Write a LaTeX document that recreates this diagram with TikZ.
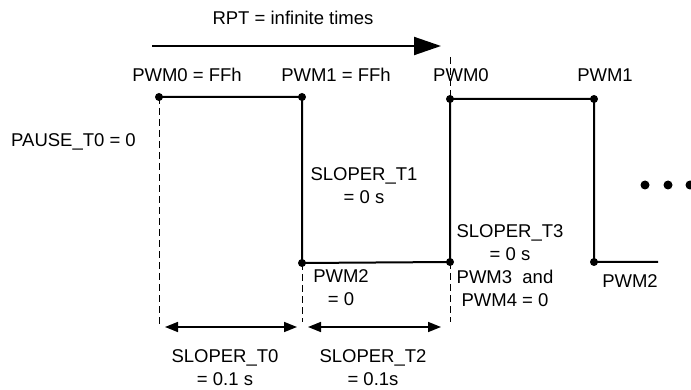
\documentclass[tikz,border=0pt]{standalone}
\usepackage{fontspec}
\setmainfont{Liberation Sans}
\usetikzlibrary{arrows.meta}
\begin{document}
\begin{tikzpicture}[x=1pt,y=-1pt,
  lbl/.style={inner sep=0pt, font=\fontsize{18.5}{23}\selectfont, align=center},
  wave/.style={line width=2pt},
  guide/.style={line width=0.9pt, dash pattern=on 7pt off 4pt},
  dim/.style={line width=1.6pt, {Triangle[length=13pt,width=10pt]}-{Triangle[length=13pt,width=10pt]}},
  jdot/.style={circle, fill=black, inner sep=0pt, minimum size=8pt}
]
\useasboundingbox (0,0) rectangle (691,390);
% waveform corner points
\node[jdot] (a) at (159,97) {};
\node[jdot] (b) at (302,97) {};
\node[jdot] (c) at (302,263) {};
\node[jdot] (d) at (450,262) {};
\node[jdot] (e) at (450,99) {};
\node[jdot] (f) at (594,99) {};
\node[jdot] (g) at (594,262) {};
\coordinate (h) at (658,262);
\draw[wave] (a.center) -- (b.center) -- (c.center) -- (d.center) -- (e.center) -- (f.center) -- (g.center) -- (h);
% guide lines
\coordinate (a0) at (159,326);
\coordinate (c0) at (302,322);
\coordinate (d0) at (450,322);
\coordinate (e0) at (450,57);
\draw[guide] (a.center) -- (a0);
\draw[guide] (c.center) -- (c0);
\draw[guide] (d.center) -- (d0);
\draw[guide] (e0) -- (e.center);
% top arrow
\coordinate (r0) at (152,46);
\coordinate (r1) at (441,46);
\draw[line width=2pt, -{Triangle[length=27pt,width=18pt]}] (r0) -- (r1);
\node[lbl] (rpt) at (293,18) {RPT = infinite times};
% dimension arrows
\coordinate (s0a) at (165,327);
\coordinate (s0b) at (297,327);
\coordinate (s2a) at (308,327);
\coordinate (s2b) at (441,327);
\draw[dim] (s0a) -- (s0b);
\draw[dim] (s2a) -- (s2b);
% labels
\node[lbl] (l1) at (187,75) {PWM0 = FFh};
\node[lbl] (l2) at (336,75) {PWM1 = FFh};
\node[lbl, anchor=west] (l3) at (433,75) {PWM0};
\node[lbl] (l4) at (605,75) {PWM1};
\node[lbl, anchor=west] (l5) at (11,142) {PAUSE\_T0 = 0};
\node[lbl] (l6) at (364,186) {SLOPER\_T1\\ = 0 s};
\node[lbl] (l7) at (510,243) {SLOPER\_T3\\ = 0 s};
\node[lbl] (l8) at (505,288) {PWM3\ \ and\\ PWM4 = 0};
\node[lbl] (l9) at (341,288) {PWM2\\ = 0};
\node[lbl] (l10) at (630,281) {PWM2};
\node[lbl] (l11) at (225,368) {SLOPER\_T0\\ = 0.1 s};
\node[lbl] (l12) at (373,368) {SLOPER\_T2\\ = 0.1s};
% ellipsis
\node[jdot, minimum size=9pt] (m1) at (645,185) {};
\node[jdot, minimum size=9pt] (m2) at (668,185) {};
\node[jdot, minimum size=9pt] (m3) at (690,185) {};
\end{tikzpicture}
\end{document}
